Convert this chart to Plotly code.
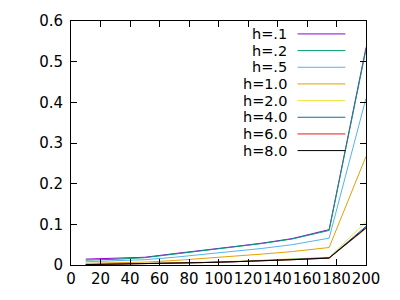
import plotly.graph_objects as go

x = [10, 30, 50, 70, 90, 110, 130, 150, 175, 200]
names = ["h=.1", "h=.2", "h=.5", "h=1.0", "h=2.0", "h=4.0", "h=6.0", "h=8.0"]
colors = ["#9400d3", "#009e73", "#56b4e9", "#e69f00", "#f0e442", "#0072b2", "#e51e10", "#000000"]
h01 = [0.0145, 0.016, 0.019, 0.028, 0.036, 0.045, 0.054, 0.065, 0.087, 0.535]
h02 = [0.012, 0.014, 0.018, 0.027, 0.035, 0.044, 0.053, 0.064, 0.085, 0.530]
h05 = [0.008, 0.010, 0.013, 0.019, 0.026, 0.033, 0.041, 0.050, 0.066, 0.410]
h10 = [0.004, 0.005, 0.007, 0.011, 0.016, 0.021, 0.027, 0.033, 0.043, 0.267]
h20 = [0.002, 0.003, 0.004, 0.005, 0.007, 0.009, 0.012, 0.015, 0.019, 0.106]
h40 = [0.001, 0.002, 0.003, 0.004, 0.006, 0.008, 0.011, 0.014, 0.018, 0.095]
h60 = [0.001, 0.002, 0.003, 0.004, 0.006, 0.008, 0.010, 0.013, 0.017, 0.090]
h80 = [0.001, 0.002, 0.003, 0.004, 0.006, 0.008, 0.010, 0.013, 0.017, 0.092]
series = [h01, h02, h05, h10, h20, h40, h60, h80]

xticks = [0, 20, 40, 60, 80, 100, 120, 140, 160, 180, 200]
yticks = [0, 0.1, 0.2, 0.3, 0.4, 0.5, 0.6]

fig = go.Figure()
for n, c, ys in zip(names, colors, series):
    fig.add_trace(go.Scatter(x=x, y=ys, mode="lines", name=n,
                             line=dict(color=c, width=1), showlegend=False))

font = dict(family="DejaVu Sans", size=15, color="#000")
# manual gnuplot-style legend: right-aligned text with sample line on the right
for i, (n, c) in enumerate(zip(names, colors)):
    yp = 0.947 - i * 0.0683
    fig.add_annotation(x=0.735, y=yp, xref="paper", yref="paper", text=n,
                       showarrow=False, xanchor="right", yanchor="middle",
                       borderpad=0,
                       font=dict(family="DejaVu Sans", size=14.5, color="#000"))
    fig.add_shape(type="line", xref="paper", yref="paper",
                  x0=0.768, x1=0.93, y0=yp, y1=yp,
                  line=dict(color=c, width=1))

axis_common = dict(showgrid=False, zeroline=False, showline=True, linecolor="#000",
                   linewidth=1, mirror="ticks", ticks="inside", ticklen=6,
                   tickcolor="#000", tickfont=font)
fig.update_xaxes(range=[0, 200], tickvals=xticks, ticktext=[str(v) for v in xticks],
                 tickangle=0, **axis_common)
fig.update_yaxes(range=[0, 0.6], tickvals=yticks, ticktext=["0", "0.1", "0.2", "0.3", "0.4", "0.5", "0.6"],
                 ticklabelstandoff=4, **axis_common)
fig.update_layout(width=400, height=300, margin=dict(l=71, r=34, t=16, b=35),
                  plot_bgcolor="white", paper_bgcolor="white", font=font)
fig.write_html("out.html", config={"displayModeBar": False},
               post_script="document.body.style.margin='0';")
